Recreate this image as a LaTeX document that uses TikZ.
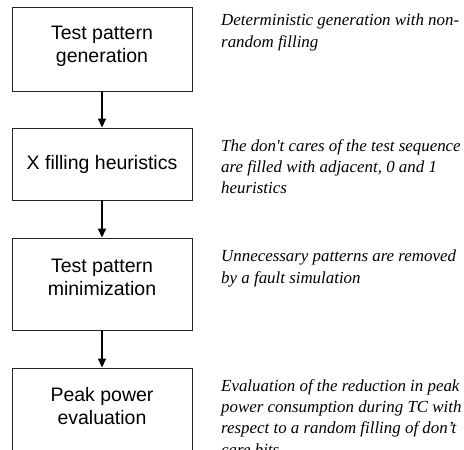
\documentclass[tikz,border=0pt]{standalone}
\usepackage{fontspec}
\setmainfont{Liberation Serif}
\setsansfont{Liberation Sans}
\usetikzlibrary{arrows.meta}
\tikzset{
  stagebox/.style={draw=black!85, line width=0.9pt, minimum width=180pt, inner sep=0pt},
  boxtext/.style={font=\sffamily\fontsize{19.5}{23}\selectfont, align=center, inner sep=0pt},
  note/.style={font=\itshape\fontsize{16.9}{21.4}\selectfont, align=left, anchor=north west, inner sep=0pt},
  flow/.style={line width=1.6pt, -{Triangle[length=9pt,width=8pt]}}
}
\begin{document}
\begin{tikzpicture}
\clip (0,0) rectangle (464pt,-450pt);
\fill[white] (0,0) rectangle (464pt,-450pt);
% boxes
\node[stagebox, minimum height=84pt] (b1) at (102pt,-49pt) {};
\node[stagebox, minimum height=72pt] (b2) at (102pt,-164pt) {};
\node[stagebox, minimum height=92pt] (b3) at (102pt,-284pt) {};
\node[stagebox, minimum height=100pt] (b4) at (102pt,-418pt) {};
% box texts
\node[boxtext] (t1) at (102pt,-46pt) {Test pattern\\generation};
\node[boxtext] (t2) at (102pt,-164pt) {X filling heuristics};
\node[boxtext] (t3) at (102pt,-277pt) {Test pattern\\minimization};
\node[boxtext] (t4) at (102pt,-406pt) {Peak power\\evaluation};
% arrows
\draw[flow] (b1.south) -- (b2.north);
\draw[flow] (b2.south) -- (b3.north);
\draw[flow] (b3.south) -- (b4.north);
% notes
\node[note] (n1) at (221pt,-14pt) {Deterministic generation with non-\\random filling};
\node[note] (n2) at (221pt,-139pt) {The don\textquotesingle t cares of the test sequence\\are filled with adjacent, 0 and 1\\heuristics};
\node[note] (n3) at (221pt,-250pt) {Unnecessary patterns are removed\\by a fault simulation};
\node[note] (n4) at (221pt,-379pt) {Evaluation of the reduction in peak\\power consumption during TC with\\respect to a random filling of don’t\\care bits.};
\end{tikzpicture}
\end{document}
